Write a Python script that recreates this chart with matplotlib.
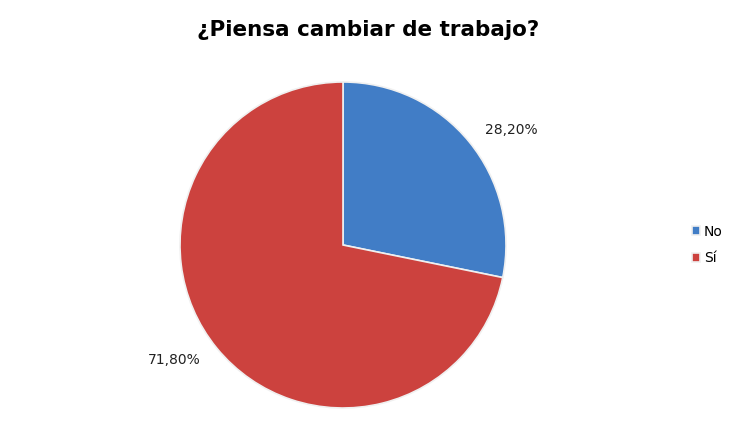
import numpy as np
import matplotlib.pyplot as plt

labels = ['No', 'Sí']
values = [28.2, 71.8]
colors = ['#417DC6', '#CC423E']

fig = plt.figure(figsize=(7.35, 4.48), dpi=100)
ax = fig.add_axes([180 / 735, 40 / 448, 326 / 735, 326 / 448])

wedges, texts, autotexts = ax.pie(values, colors=colors, startangle=90, counterclock=False,
                                  autopct=lambda p: f'{p:.2f}%'.replace('.', ','),
                                  pctdistance=1.25,
                                  wedgeprops={'edgecolor': '#f0f0f0', 'linewidth': 1.2},
                                  textprops={'fontsize': 10, 'family': 'DejaVu Sans', 'color': '#222222'})
# labels sit a little clockwise of the wedge middle in the original
for w, t in zip(wedges, autotexts):
    ang = np.deg2rad((w.theta1 + w.theta2) / 2 - 5)
    t.set_position((1.25 * np.cos(ang), 1.25 * np.sin(ang)))

ax.set_xlim(-1, 1)
ax.set_ylim(-1, 1)
ax.set_aspect('equal')

fig.text(368 / 735, 1 - 30 / 448, '¿Piensa cambiar de trabajo?', ha='center', va='center',
         fontsize=15.5, fontweight='bold', color='black')

fig.legend(wedges, labels, loc='center left', bbox_to_anchor=(686 / 735, 1 - 245 / 448),
           frameon=False, fontsize=10, handlelength=0.6, handleheight=0.6,
           handletextpad=0.3, labelspacing=0.9, borderaxespad=0)

fig.savefig('out.png', dpi=100)
